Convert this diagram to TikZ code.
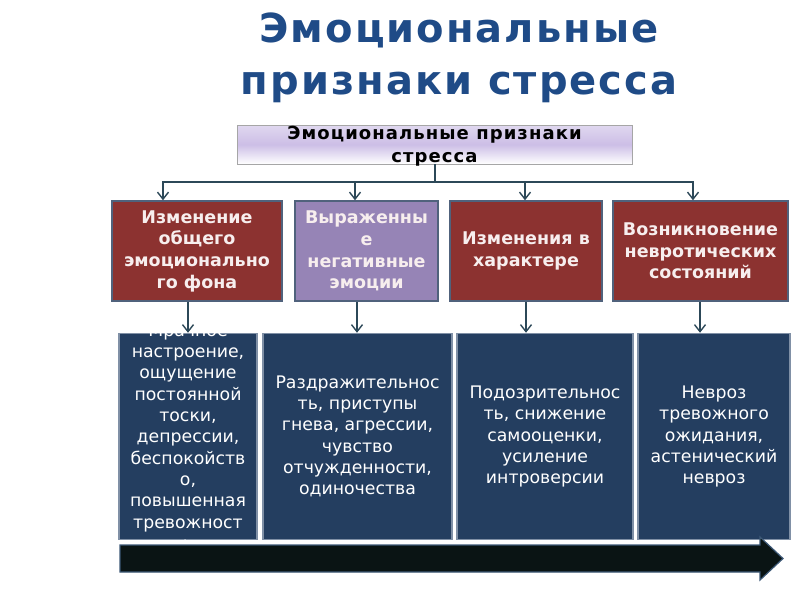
\documentclass[tikz,border=0pt]{standalone}
\usepackage{fontspec}
\setmainfont{DejaVu Sans}
\usetikzlibrary{arrows.meta,shapes}
\usetikzlibrary{positioning}
\definecolor{titlec}{RGB}{31,75,135}
\definecolor{redbox}{RGB}{140,50,48}
\definecolor{violetbox}{RGB}{150,132,182}
\definecolor{bluebox}{RGB}{36,62,96}
\definecolor{rim}{RGB}{80,98,124}
\definecolor{lightrim}{RGB}{128,144,166}
\definecolor{wirec}{RGB}{44,72,88}
\definecolor{lav}{RGB}{204,190,230}
\definecolor{txtw}{RGB}{247,238,238}
\definecolor{arrowfill}{RGB}{10,20,20}
\definecolor{arrowrim}{RGB}{60,88,118}
\tikzstyle{box}=[draw=rim, line width=1.5pt, inner sep=0pt, minimum height=100pt,
align=center, text=txtw, font=\fontsize{17.5}{21.7}\selectfont\bfseries]
\tikzstyle{kind}=[box, fill=redbox]
\tikzstyle{mood}=[box, fill=violetbox]
\tikzstyle{descr}=[box, draw=lightrim, fill=bluebox, minimum height=206pt,
font=\fontsize{17.3}{21.3}\selectfont, text=white]
\tikzstyle{wire}=[draw=wirec, line width=2pt]
\tikzstyle{myarrow}=[wire, -{Straight Barb[length=7pt,width=11pt,line width=1.4pt]}]

\begin{document}
\begin{tikzpicture}[x=1pt, y=-1pt]

    \useasboundingbox (0,0) rectangle (800,600);

    \node[font=\fontsize{40}{52}\selectfont\bfseries\addfontfeature{LetterSpace=5},
        text=titlec, align=center] (title)
        at (459,58) {Эмоциональные\\признаки стресса};

    \node[draw=gray!70, line width=0.8pt, minimum width=395pt, minimum height=39pt,
        top color=lav!60, bottom color=white, middle color=lav] (sign) at (434.5,144.5) {};
    \node[font=\fontsize{18}{23.5}\selectfont\bfseries\addfontfeature{LetterSpace=6}, align=center] (signtext)
        at (434.5,146) {Эмоциональные признаки\\стресса};

    \node[kind, minimum width=170pt] (kind1) at (197,251) {Изменение\\общего\\эмоционально\\го фона};
    \node[mood, minimum width=143pt] (kind2) at (366.5,251) {Выраженны\\е\\негативные\\эмоции};
    \node[kind, minimum width=152pt] (kind3) at (526,251) {Изменения в\\характере};
    \node[kind, minimum width=175pt] (kind4) at (700.5,251) {Возникновение\\невротических\\состояний};

    \draw[wire] (sign.south) -- ++(0,18) coordinate (bus);
    \draw[wire, line cap=rect] (163,182) -- (693,182);
    \foreach \x/\n in {163/kind1, 355/kind2, 525/kind3, 693/kind4}
        \draw[myarrow] (\x,182) -- (\x,0 |- \n.north);

    \node[descr, minimum width=138pt, below=31pt of kind1, xshift=-9pt] (descr1) {};
    \node[descr, minimum width=189pt, below=31pt of kind2, xshift=-9pt] (descr2)
        {Раздражительнос\\ть, приступы\\гнева, агрессии,\\чувство\\отчужденности,\\одиночества};
    \node[descr, minimum width=176pt, below=31pt of kind3, xshift=19pt] (descr3)
        {Подозрительнос\\ть, снижение\\самооценки,\\усиление\\интроверсии};
    \node[descr, minimum width=152pt, below=31pt of kind4, xshift=13.5pt] (descr4)
        {Невроз\\тревожного\\ожидания,\\астенический\\невроз};

    % text of the first column runs past its box
    \begin{scope}
        \clip ([shift={(1pt,1pt)}]descr1.south west) rectangle ([shift={(-1pt,-1pt)}]descr1.north east);
        \node[font=\fontsize{17.3}{21.3}\selectfont, text=white, align=center] (descr1text) at (descr1.center)
            {Мрачное\\настроение,\\ощущение\\постоянной\\тоски,\\депрессии,\\беспокойств\\о,\\повышенная\\тревожност\\ь};
    \end{scope}

    \foreach \x/\a/\b in {188/kind1/descr1, 357/kind2/descr2, 526/kind3/descr3, 700/kind4/descr4}
        \draw[myarrow] (\x,0 |- \a.south) -- (\x,0 |- \b.north);

    \filldraw[fill=arrowfill, draw=arrowrim, line width=1.2pt]
        (120,545) -- (760,545) -- (760,537) -- (783,558.5) -- (760,580) -- (760,572) -- (120,572) -- cycle;

\end{tikzpicture}
\end{document}
